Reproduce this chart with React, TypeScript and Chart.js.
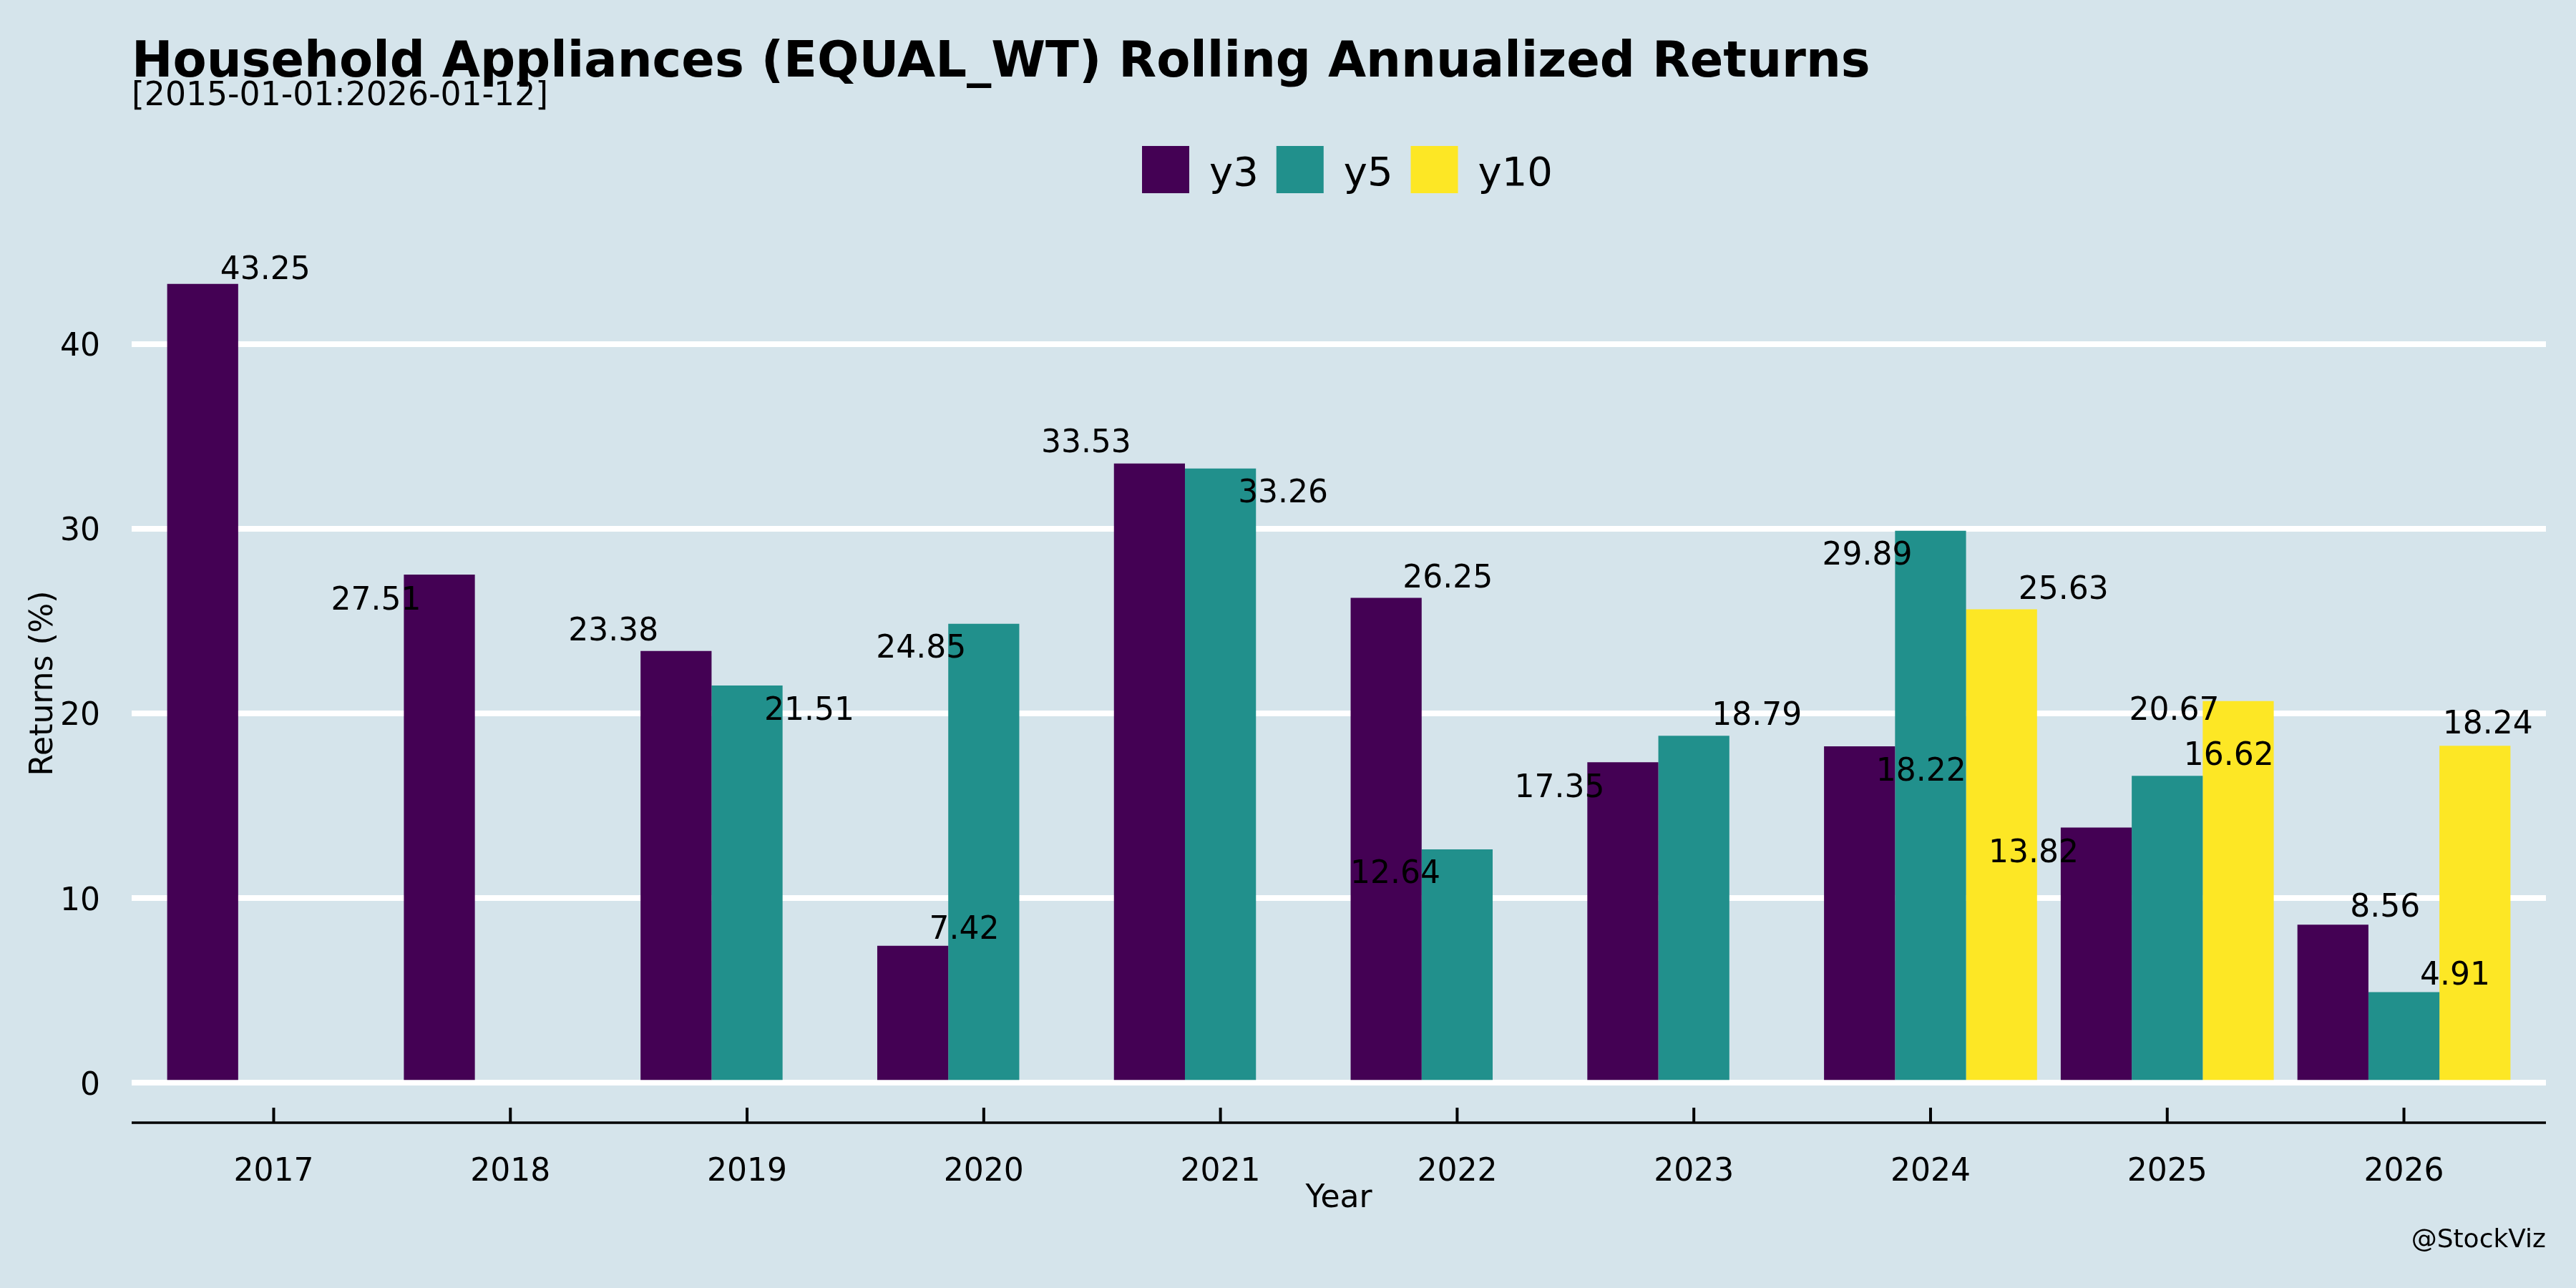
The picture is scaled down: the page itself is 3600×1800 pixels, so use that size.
import React, { useEffect, useRef } from 'react';
import { Chart, registerables } from 'chart.js';

Chart.register(...registerables);

const YEARS = ['2017', '2018', '2019', '2020', '2021', '2022', '2023', '2024', '2025', '2026'];
const Y3 = [43.25, 27.51, 23.38, 7.42, 33.53, 26.25, 17.35, 18.22, 13.82, 8.56];
const Y5 = [null, null, 21.51, 24.85, 33.26, 12.64, 18.79, 29.89, 16.62, 4.91];
const Y10 = [null, null, null, null, null, null, null, 25.63, 20.67, 18.24];
const SERIES_NAMES = ['y3', 'y5', 'y10'];
const Y_TICKS = [0, 10, 20, 30, 40];

const TITLE = 'Household Appliances (EQUAL_WT) Rolling Annualized Returns';
const SUBTITLE = '[2015-01-01:2026-01-12]';
const CAPTION = '@StockViz';
const X_TITLE = 'Year';
const Y_TITLE = 'Returns (%)';

// styles
const COLORS = ['#440154', '#21908C', '#FDE725'];
const BG = '#d5e4eb';
const FONT = "'DejaVu Sans', 'Liberation Sans', sans-serif";

// repelled label offsets (px) of label centre from the bar's top centre
const LABEL_NUDGE: (number[] | null)[][] = [
  [[87.5, -22.5], [-88.5, 33], [-87.5, -30.5], [72, -26], [-88.5, -31.5], [86, -31], [-88.5, 32.5], [86, 32], [-87.5, 32.6], [73, -27]],
  [null, null, [87, 32], [-87.5, 31.5], [87.5, 31.5], [-86.5, 31], [88, -31], [-88.5, 31.5], [86, -31], [71.5, -26]],
  [null, null, null, null, null, null, null, [86.5, -31], [-89.5, 10], [18, -33]],
];

const decorPlugin = {
  id: 'decor',
  beforeDraw(chart: any) {
    const { ctx, width, height } = chart;
    ctx.save();
    ctx.fillStyle = BG;
    ctx.fillRect(0, 0, width, height);
    ctx.restore();
  },
  afterDatasetsDraw(chart: any) {
    const { ctx } = chart;
    ctx.save();
    ctx.fillStyle = '#000';
    ctx.font = `44px ${FONT}`;
    ctx.textAlign = 'center';
    ctx.textBaseline = 'alphabetic';
    chart.data.datasets.forEach((ds: any, i: number) => {
      const meta = chart.getDatasetMeta(i);
      meta.data.forEach((el: any, j: number) => {
        const v = ds.data[j];
        const nudge = LABEL_NUDGE[i][j];
        if (v === null || v === undefined || !nudge) return;
        const cx = el.x + nudge[0];
        const cy = el.y + nudge[1];
        ctx.fillText(v.toFixed(2), cx, cy + 0.3645 * 44);
      });
    });
    ctx.restore();
  },
  afterDraw(chart: any) {
    const { ctx, chartArea } = chart;
    const xs = chart.scales.x;
    ctx.save();
    // axis line & inward ticks
    ctx.strokeStyle = '#000';
    ctx.lineWidth = 3.5;
    ctx.beginPath();
    ctx.moveTo(chartArea.left, chartArea.bottom);
    ctx.lineTo(chartArea.right, chartArea.bottom);
    ctx.stroke();
    ctx.lineWidth = 4;
    YEARS.forEach((_, i) => {
      const x = xs.getPixelForValue(i);
      ctx.beginPath();
      ctx.moveTo(x, chartArea.bottom);
      ctx.lineTo(x, chartArea.bottom - 21);
      ctx.stroke();
    });

    // titles
    ctx.fillStyle = '#000';
    ctx.textAlign = 'left';
    ctx.textBaseline = 'alphabetic';
    ctx.font = `bold 68.7px ${FONT}`;
    ctx.fillText(TITLE, chartArea.left, 107);
    ctx.font = `45.7px ${FONT}`;
    ctx.fillText(SUBTITLE, chartArea.left, 147);

    // caption
    ctx.textAlign = 'right';
    ctx.font = `36px ${FONT}`;
    ctx.fillText(CAPTION, chartArea.right, 1743);

    // legend
    const box = 66;
    const gap = 25;
    let x = 1596;
    const top = 204;
    ctx.font = `56px ${FONT}`;
    ctx.textAlign = 'left';
    ctx.textBaseline = 'alphabetic';
    chart.data.datasets.forEach((ds: any) => {
      ctx.fillStyle = ds.backgroundColor;
      ctx.fillRect(x, top, box, box);
      ctx.fillStyle = '#000';
      const tx = x + box + 28;
      ctx.fillText(ds.label, tx, 258.5);
      x = tx + ctx.measureText(ds.label).width + gap;
    });
    ctx.restore();
  },
};

export default function App() {
  const ref = useRef<HTMLCanvasElement | null>(null);

  useEffect(() => {
    if (!ref.current) return;
    Chart.defaults.color = '#000';
    Chart.defaults.font.family = FONT;
    const all = [...Y3, ...Y5, ...Y10].filter((v) => v !== null) as number[];
    const maxV = Math.max(...all);
    const expand = 0.05 * maxV;

    const chart = new Chart(ref.current, {
      type: 'bar',
      data: {
        labels: YEARS,
        datasets: [Y3, Y5, Y10].map((d, i) => ({
          label: SERIES_NAMES[i],
          data: d,
          backgroundColor: COLORS[i],
          borderWidth: 0,
          categoryPercentage: 0.9,
          barPercentage: 1.0,
        })),
      },
      options: {
        animation: false,
        responsive: false,
        devicePixelRatio: 1,
        layout: { padding: { top: 341, right: 42, bottom: 81, left: 0 } },
        plugins: {
          legend: { display: false },
          title: { display: false },
          tooltip: { enabled: false },
        },
        scales: {
          x: {
            type: 'category',
            offset: false,
            grid: { display: false, drawTicks: false },
            border: { display: false },
            ticks: { font: { size: 44 }, padding: 43, color: '#000', maxRotation: 0, autoSkip: false },
            title: { display: true, text: X_TITLE, font: { size: 44 }, color: '#000', padding: { top: 0, bottom: 17 } },
            afterBuildTicks: (scale: any) => {
              scale._startValue = -0.6;
              scale._valueRange = YEARS.length - 1 + 1.2;
            },
            afterFit: (scale: any) => {
              scale.height = 150;
            },
          },
          y: {
            type: 'linear',
            min: -expand,
            max: maxV + expand,
            grid: { color: '#ffffff', lineWidth: 8, drawTicks: false },
            border: { display: false },
            ticks: { font: { size: 44 }, padding: 44, color: '#000', labelOffset: 5 },
            title: { display: true, text: Y_TITLE, font: { size: 44 }, color: '#000', padding: { top: 35, bottom: 0 } },
            afterBuildTicks: (scale: any) => {
              scale.ticks = Y_TICKS.map((v) => ({ value: v }));
            },
            afterFit: (scale: any) => {
              scale.width = 184;
            },
          },
        },
      },
      plugins: [decorPlugin],
    });
    return () => chart.destroy();
  }, []);

  return (
    <div style={{ position: 'fixed', left: 0, top: 0, width: 3600, height: 1800, background: BG }}>
      <canvas ref={ref} width={3600} height={1800} style={{ width: 3600, height: 1800, display: 'block' }} />
    </div>
  );
}
